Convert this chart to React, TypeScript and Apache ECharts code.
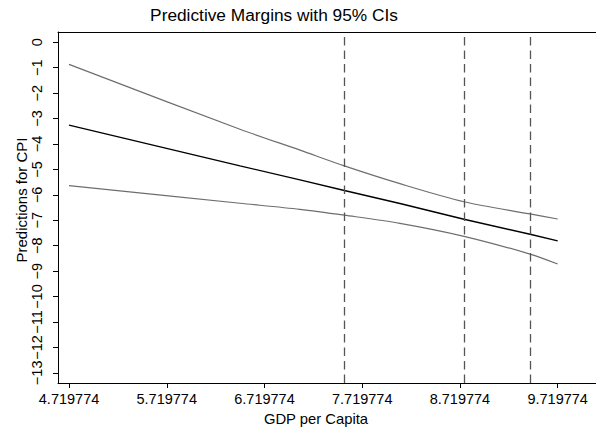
import React, { useEffect, useRef } from "react";
import * as echarts from "echarts";

const xValues = [4.719774, 6.469, 7.083, 7.537, 8.106, 8.761, 9.437, 9.72];
const upperCI = [-0.87, -3.42, -4.24, -4.86, -5.56, -6.27, -6.75, -6.95];
const margin = [-3.26, -4.86, -5.41, -5.83, -6.34, -6.96, -7.55, -7.81];
const lowerCI = [-5.64, -6.33, -6.57, -6.8, -7.12, -7.63, -8.33, -8.72];
const refLines = [7.537, 8.761, 9.437];
const xTicks = [4.719774, 5.719774, 6.719774, 7.719774, 8.719774, 9.719774];
const yTicks = [0, -1, -2, -3, -4, -5, -6, -7, -8, -9, -10, -11, -12, -13];

const FONT = "'Liberation Sans', Arial, Helvetica, sans-serif";

export default function App() {
  const ref = useRef<HTMLDivElement>(null);
  useEffect(() => {
    if (!ref.current) return;
    const chart = echarts.init(ref.current, null, { renderer: "svg" });
    const toPairs = (ys: number[]) => xValues.map((x, i) => [x, ys[i]]);
    const xMin = 4.607;
    const xMax = 10.112;
    chart.setOption({
      animation: false,
      backgroundColor: "#ffffff",
      textStyle: { fontFamily: FONT },
      grid: { left: 58, right: 0, top: 32, bottom: 48, containLabel: false },
      xAxis: [
        {
          type: "value",
          min: xMin,
          max: xMax,
          position: "bottom",
          axisLine: { show: true, onZero: false, lineStyle: { color: "#000", width: 1 } },
          axisTick: { show: true, length: 5, customValues: xTicks, lineStyle: { color: "#000" } },
          axisLabel: {
            show: true,
            customValues: xTicks,
            margin: 8,
            color: "#000",
            fontSize: 14.5,
            fontFamily: FONT,
            formatter: (v: number) => v.toFixed(6),
          },
          splitLine: { show: false },
        },
        {
          type: "value",
          min: xMin,
          max: xMax,
          position: "top",
          axisLine: { show: true, onZero: false, lineStyle: { color: "#000", width: 1 } },
          axisTick: { show: false },
          axisLabel: { show: false },
          splitLine: { show: false },
        },
      ],
      yAxis: {
        type: "value",
        min: -13.4,
        max: 0.405,
        axisLine: { show: true, onZero: false, lineStyle: { color: "#000", width: 1 } },
        axisTick: { show: true, length: 5, customValues: yTicks, lineStyle: { color: "#000" } },
        axisLabel: {
          show: true,
          customValues: yTicks,
          rotate: 90,
          margin: 14,
          color: "#000",
          fontSize: 14.5,
          fontFamily: FONT,
          formatter: (v: number) => String(v).replace("-", "\u2212"),
        },
        splitLine: { show: false },
      },
      graphic: [
        {
          type: "text",
          x: 274,
          y: 15,
          style: {
            text: "Predictive Margins with 95% CIs",
            fontSize: 17.3,
            fontFamily: FONT,
            fill: "#000",
            textAlign: "center",
            textVerticalAlign: "middle",
          },
        },
        {
          type: "text",
          x: 316,
          y: 418.5,
          style: {
            text: "GDP per Capita",
            fontSize: 14.8,
            fontFamily: FONT,
            fill: "#000",
            textAlign: "center",
            textVerticalAlign: "middle",
          },
        },
        {
          type: "text",
          x: 21.5,
          y: 200,
          rotation: Math.PI / 2,
          style: {
            text: "Predictions for CPI",
            fontSize: 15,
            fontFamily: FONT,
            fill: "#000",
            textAlign: "center",
            textVerticalAlign: "middle",
          },
        },
      ],
      series: [
        {
          name: "Upper",
          type: "line",
          data: toPairs(upperCI),
          smooth: 0.3,
          showSymbol: false,
          lineStyle: { color: "#6e6e6e", width: 1.2 },
          markLine: {
            silent: true,
            symbol: "none",
            label: { show: false },
            lineStyle: { color: "#555", type: [8.5, 5], width: 1.3 },
            data: refLines.map((v) => ({ xAxis: v })),
          },
        },
        {
          name: "Margin",
          type: "line",
          data: toPairs(margin),
          showSymbol: false,
          lineStyle: { color: "#000", width: 1.4 },
        },
        {
          name: "Lower",
          type: "line",
          data: toPairs(lowerCI),
          smooth: 0.3,
          showSymbol: false,
          lineStyle: { color: "#6e6e6e", width: 1.2 },
        },
      ],
    });
    return () => chart.dispose();
  }, []);
  return <div ref={ref} style={{ width: 596, height: 431, position: "absolute", left: 0, top: 0 }} />;
}
